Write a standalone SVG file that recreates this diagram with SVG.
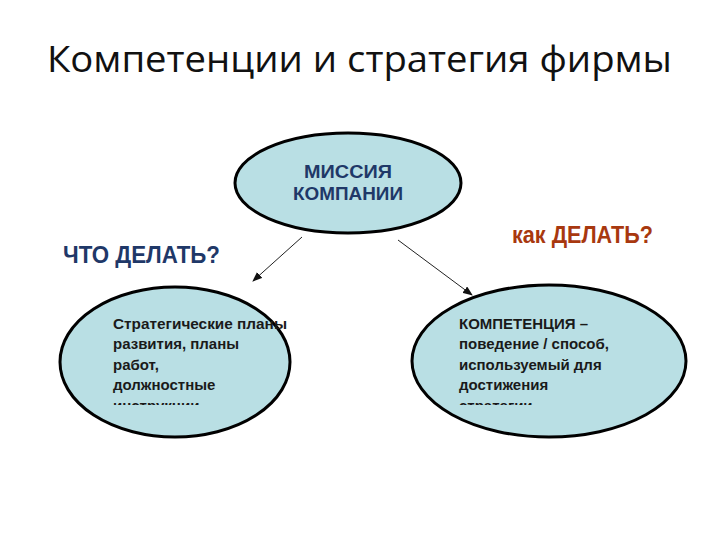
<svg xmlns="http://www.w3.org/2000/svg" width="720" height="540" viewBox="0 0 720 540">
<style>
.e{fill:#b9dfe4;stroke:#000;stroke-width:3}
.t{font-family:"Liberation Sans",Arial,sans-serif;font-weight:bold;font-size:15px;fill:#1a1a1a}
.h{font-family:"Liberation Sans",Arial,sans-serif;font-weight:bold;font-size:24px}
.c{stroke:#222;stroke-width:1;fill:none;marker-end:url(#a)}
</style>
<defs>
<marker id="a" markerWidth="10" markerHeight="8" refX="9" refY="4" orient="auto" markerUnits="userSpaceOnUse"><path d="M0,0 L10,4 L0,8 z" fill="#111"/></marker>
<clipPath id="cl"><rect x="0" y="0" width="720" height="405"/></clipPath>
</defs>
<rect width="720" height="540" fill="#fff"/>
<text x="47" y="72" font-family="'Open Sans',sans-serif" font-size="37" textLength="625" lengthAdjust="spacingAndGlyphs" fill="#111">Компетенции и стратегия фирмы</text>
<g id="connectors">
<line class="c" x1="302" y1="237" x2="253" y2="281"/>
<line class="c" x1="398" y1="240" x2="472" y2="295"/>
</g>
<g id="mission">
<ellipse class="e" cx="348" cy="183" rx="113" ry="50"/>
<text class="t" x="348" y="178" text-anchor="middle" font-size="18" textLength="88" lengthAdjust="spacingAndGlyphs" style="fill:#1f3868;font-size:18px">МИССИЯ</text>
<text class="t" x="348" y="200" text-anchor="middle" textLength="110" lengthAdjust="spacingAndGlyphs" style="fill:#1f3868;font-size:18px">КОМПАНИИ</text>
</g>
<g id="what">
<text class="h" x="63" y="263" fill="#1f3868" textLength="157" lengthAdjust="spacingAndGlyphs">ЧТО ДЕЛАТЬ?</text>
</g>
<g id="how">
<text class="h" x="512" y="243" fill="#a8380f" textLength="141" lengthAdjust="spacingAndGlyphs">как ДЕЛАТЬ?</text>
</g>
<g id="plans">
<ellipse class="e" cx="175" cy="362" rx="115" ry="75"/>
<g class="t" clip-path="url(#cl)">
<text x="113" y="329" textLength="174" lengthAdjust="spacingAndGlyphs">Стратегические планы</text>
<text x="113" y="349">развития, планы</text>
<text x="113" y="370">работ,</text>
<text x="113" y="390">должностные</text>
<text x="113" y="411">инструкции</text>
</g>
</g>
<g id="competence">
<ellipse class="e" cx="549" cy="361" rx="137" ry="76"/>
<g class="t" clip-path="url(#cl)">
<text x="459" y="329">КОМПЕТЕНЦИЯ –</text>
<text x="459" y="349">поведение / способ,</text>
<text x="459" y="370">используемый для</text>
<text x="459" y="390">достижения</text>
<text x="459" y="411">стратегии</text>
</g>
</g>
</svg>
